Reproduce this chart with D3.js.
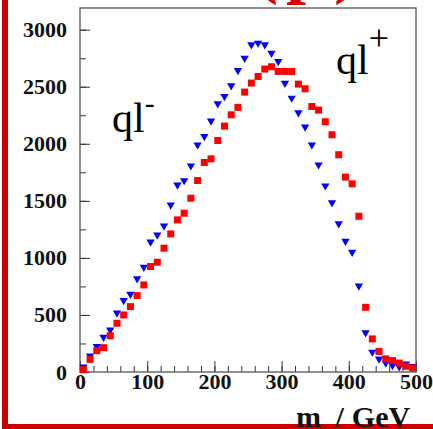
<!DOCTYPE html>
<html lang="en">
<head>
<meta charset="UTF-8">
<title>m_ql distribution</title>
<script src="https://d3js.org/d3.v7.min.js"></script>
<style>
    body { margin: 0; background: #fff; }
    svg { display: block; }
    .tick text { font-family: "Liberation Serif", serif; font-weight: bold; font-size: 22px; fill: #111; }
    .tick line { stroke: #333; }
    .domain { display: none; }
</style>
</head>
<body>
<svg width="433" height="429"></svg>
<script>
// bin centres in GeV (10 GeV bins)
const binCentres = d3.range(5, 500, 10);

// ql- (blue triangles)
const qlMinus = [45, 140, 225, 305, 368, 518, 628, 682, 818, 918,
    1140, 1202, 1281, 1465, 1640, 1678, 1807, 1991, 2064, 2200,
    2351, 2415, 2509, 2643, 2750, 2868, 2883, 2868, 2795, 2722,
    2532, 2401, 2272, 2148, 1991, 1816, 1632, 1485, 1300, 1146,
    1050, 754, 345, 175, 115, 80, 58, 47, 72, 50];

// ql+ (red squares)
const qlPlus = [20, 111, 187, 213, 318, 427, 500, 573, 670, 763,
    924, 962, 1085, 1210, 1333, 1392, 1523, 1678, 1836, 1868,
    2029, 2155, 2254, 2319, 2453, 2532, 2590, 2655, 2675, 2634,
    2634, 2634, 2523, 2482, 2327, 2295, 2193, 2079, 1904, 1708,
    1649, 1365, 567, 290, 180, 115, 100, 78, 50, 35];

const yMajor = [0, 500, 1000, 1500, 2000, 2500, 3000];
const xMajor = [0, 100, 200, 300, 400, 500];

const svg = d3.select("svg");
const plot = { left: 80, right: 416, top: 8, bottom: 372 };

const x = d3.scaleLinear().domain([0, 500]).range([plot.left, plot.right]);
const y = d3.scaleLinear().domain([0, 3190]).range([plot.bottom, plot.top]);

// red slide border bits
svg.append("rect").attr("x", 2).attr("y", 0).attr("width", 6).attr("height", 429).attr("fill", "#cc0000");
svg.append("rect").attr("x", 2).attr("y", 424).attr("width", 431).attr("height", 5).attr("fill", "#cc0000");
svg.append("text")
    .attr("x", 310).attr("y", -10)
    .attr("text-anchor", "middle")
    .style("font-family", "Liberation Serif, serif")
    .style("font-weight", "bold")
    .style("font-size", "72px")
    .style("letter-spacing", "8px")
    .attr("fill", "#dd0000")
    .text("(p)");

// minor ticks
svg.append("g")
    .attr("transform", `translate(${plot.left},0)`)
    .call(d3.axisLeft(y).tickValues(d3.range(0, 3190, 250)).tickSize(-6).tickFormat(""));
svg.append("g")
    .attr("transform", `translate(0,${plot.bottom})`)
    .call(d3.axisBottom(x).tickValues(d3.range(0, 501, 20)).tickSize(-6).tickFormat(""));

// major ticks + labels
svg.append("g")
    .attr("transform", `translate(${plot.left},0)`)
    .call(d3.axisLeft(y).tickValues(yMajor).tickSize(-10).tickPadding(13).tickFormat(d3.format("d")));
svg.append("g")
    .attr("transform", `translate(0,${plot.bottom})`)
    .call(d3.axisBottom(x).tickValues(xMajor).tickSize(-11).tickPadding(1).tickFormat(d3.format("d")));

// frame
svg.append("rect")
    .attr("x", plot.left).attr("y", plot.top)
    .attr("width", plot.right - plot.left).attr("height", plot.bottom - plot.top)
    .attr("fill", "none").attr("stroke", "#555").attr("stroke-width", 1.3);

// blue triangles (ql-)
const tri = d3.symbol().type(d3.symbolTriangle).size(30);
svg.append("g").selectAll("path")
    .data(qlMinus)
    .join("path")
    .attr("d", tri)
    .attr("transform", (d, i) => `translate(${x(binCentres[i])},${y(d)}) rotate(180)`)
    .attr("fill", "#0000ff");

// red squares (ql+)
const sq = 7;
svg.append("g").selectAll("rect")
    .data(qlPlus)
    .join("rect")
    .attr("x", (d, i) => x(binCentres[i]) - sq / 2)
    .attr("y", d => y(d) - sq / 2)
    .attr("width", sq).attr("height", sq)
    .attr("fill", "#ff0000");

// labels
function label(xp, yp, base, sup, raise, supSize) {
    const t = svg.append("text")
        .attr("x", xp).attr("y", yp)
        .style("font-family", "Liberation Serif, serif")
        .style("font-size", "42px")
        .attr("fill", "#000");
    t.append("tspan").text(base);
    t.append("tspan").attr("dy", -raise).style("font-size", supSize + "px").text(sup);
}
label(112, 132, "ql", "-", 19, 30);
label(336, 74, "ql", "+", 24, 36);

// x-axis title (partly hidden under the red border)
const xt = svg.append("text")
    .attr("x", 296).attr("y", 427)
    .style("font-family", "Liberation Serif, serif")
    .style("font-weight", "bold")
    .style("font-size", "30px")
    .attr("fill", "#111");
xt.append("tspan").text("m");
xt.append("tspan").attr("dy", 3).style("font-size", "10px").text(".");
xt.append("tspan").attr("dy", -3).attr("dx", 12).text("/");
xt.append("tspan").attr("dx", 8).text("GeV");
</script>
</body>
</html>
